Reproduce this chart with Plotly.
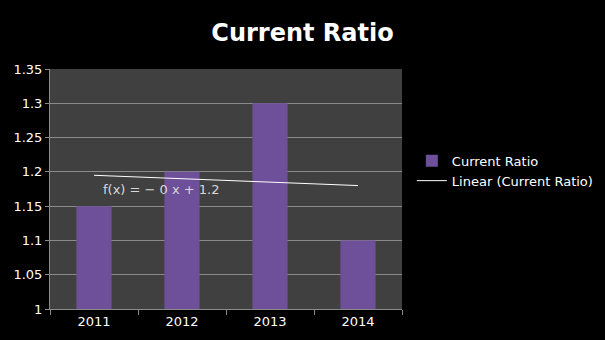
import numpy as np
import plotly.graph_objects as go

years = ["2011", "2012", "2013", "2014"]
current_ratio = [1.15, 1.2, 1.3, 1.1]
y_ticks = [1, 1.05, 1.1, 1.15, 1.2, 1.25, 1.3, 1.35]

# Linear trend over the category positions 1..n
xs = np.arange(1, len(years) + 1)
slope, intercept = np.polyfit(xs, current_ratio, 1)
trend = slope * xs + intercept

fig = go.Figure()
fig.add_trace(go.Bar(
    x=years, y=current_ratio, name="Current Ratio",
    marker=dict(color="#6e4f99", line=dict(width=0)),
))
fig.add_trace(go.Scatter(
    x=years, y=trend, mode="lines", name="Linear (Current Ratio)",
    line=dict(color="white", width=1),
))

fig.add_annotation(
    x=0.08, xref="x", y=1.175, yref="y", xanchor="left", yanchor="middle",
    text=f"f(x) = − {abs(slope):.0f} x + {intercept:.1f}",
    showarrow=False, font=dict(color="#d8d8d8", size=13, family="DejaVu Sans"),
)

fig.update_layout(
    width=605, height=340,
    margin=dict(l=50, r=203, t=69, b=31, autoexpand=False),
    paper_bgcolor="black", plot_bgcolor="#404040",
    font=dict(family="DejaVu Sans", color="white", size=13),
    title=dict(text="<b>Current Ratio</b>", x=0.5, xanchor="center",
               y=0.905, yanchor="middle", font=dict(size=24, color="white")),
    bargap=0.6,
    showlegend=True,
    legend=dict(x=1.028, y=0.68, xanchor="left", yanchor="top",
                bgcolor="rgba(0,0,0,0)", font=dict(size=13, color="white"),
                tracegroupgap=0, itemwidth=30),
    xaxis=dict(type="category", tickson="boundaries", ticks="outside",
               ticklen=5, tickcolor="#8a8a8a", showline=True,
               linecolor="#8a8a8a", showgrid=False,
               tickfont=dict(size=13)),
    yaxis=dict(range=[1, 1.35], tickvals=y_ticks,
               ticktext=[f"{v:g}" for v in y_ticks],
               showgrid=True, gridcolor="#8a8a8a", gridwidth=1,
               showline=True, linecolor="#8a8a8a", ticks="outside",
               ticklen=4, tickcolor="#8a8a8a", zeroline=False,
               tickfont=dict(size=13)),
)

fig.write_html("out.html")
